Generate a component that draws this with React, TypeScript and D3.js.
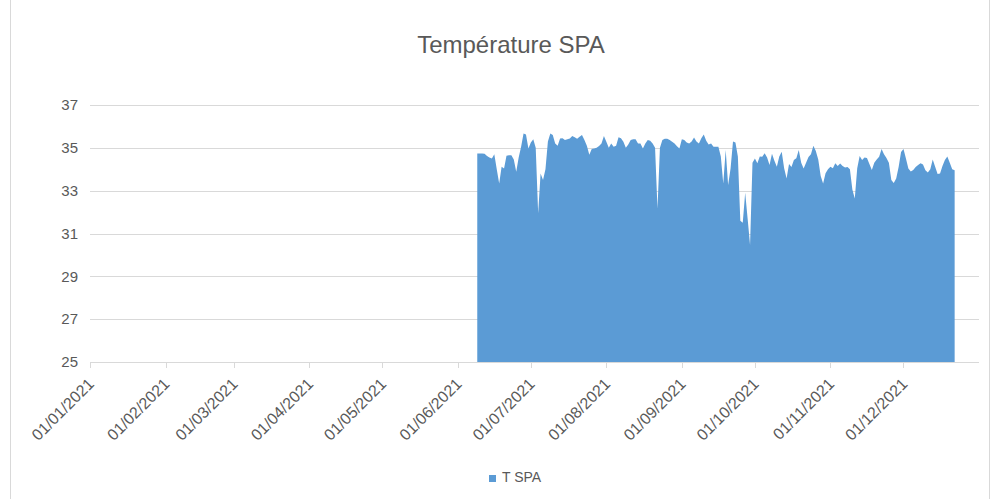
import React from "react";
import * as d3 from "d3";

const title = "Température SPA";
const seriesName = "T SPA";
const startDate = "2021-06-09";
const values: number[] = [
  34.74, 34.74, 34.74, 34.72, 34.62, 34.55, 34.5, 34.7, 34.0, 33.34,
  34.12, 34.04, 34.63, 34.65, 34.65, 34.45, 33.88, 34.55, 35.05, 35.67,
  35.62, 34.97, 35.25, 35.4, 35.0, 31.94, 33.8, 33.5, 34.0, 35.3,
  35.67, 35.6, 35.2, 35.1, 35.44, 35.45, 35.36, 35.4, 35.44, 35.55,
  35.5, 35.42, 35.52, 35.6, 35.36, 35.1, 34.68, 34.95, 34.97, 35.0,
  35.08, 35.2, 35.55, 35.28, 35.0, 35.2, 35.05, 35.1, 35.5, 35.45,
  35.28, 35.0, 35.15, 35.36, 35.4, 35.4, 35.2, 35.2, 34.97, 35.2,
  35.36, 35.33, 35.2, 35.0, 32.17, 35.0, 35.36, 35.42, 35.42, 35.36,
  35.28, 35.2, 35.07, 34.97, 35.4, 35.36, 35.25, 35.2, 35.3, 35.48,
  35.3, 35.2, 35.45, 35.62, 35.33, 35.15, 35.2, 35.05, 35.05, 35.05,
  34.6, 33.34, 34.9, 33.26, 34.04, 35.3, 35.25, 34.6, 31.6, 31.5,
  32.9, 31.7, 30.46, 34.3, 34.5, 34.28, 34.6, 34.58, 34.75, 34.55,
  34.2, 34.72, 34.4, 34.12, 34.6, 34.82, 34.05, 33.57, 34.25, 34.1,
  34.43, 34.51, 34.9, 34.3, 34.04, 34.3, 34.57, 34.7, 35.1, 34.85,
  34.45, 33.68, 33.34, 33.81, 34.0, 34.12, 34.05, 34.28, 34.15, 34.27,
  34.15, 34.08, 34.1, 34.0, 33.05, 32.64, 34.05, 34.62, 34.43, 34.55,
  34.52, 34.25, 33.96, 34.3, 34.45, 34.58, 34.95, 34.7, 34.52, 34.3,
  33.5, 33.36, 33.57, 34.1, 34.8, 34.95, 34.5, 34.04, 33.9, 33.96,
  34.1, 34.2, 34.28, 34.22, 33.95, 33.85, 34.0, 34.45, 34.12, 33.78,
  33.8, 34.15, 34.43, 34.6, 34.3, 34.0, 33.95,
];
const yTicks = [25, 27, 29, 31, 33, 35, 37];
const xTickDates = [
  "2021-01-01", "2021-02-01", "2021-03-01", "2021-04-01", "2021-05-01", "2021-06-01",
  "2021-07-01", "2021-08-01", "2021-09-01", "2021-10-01", "2021-11-01", "2021-12-01",
];

const W = 998;
const H = 499;
const left = 90;
const right = 979;
const top = 105;
const bottom = 362;
const fill = "#5B9BD5";
const grid = "#D9D9D9";
const textColor = "#595959";
const font = "'Liberation Sans', Arial, sans-serif";

const parse = d3.utcParse("%Y-%m-%d");
const fmt = d3.utcFormat("%d/%m/%Y");

export default function App() {
  const start = parse(startDate)!;
  const data = values.map((v, i) => ({ date: d3.utcDay.offset(start, i), v }));
  const x = d3
    .scaleUtc()
    .domain([parse("2021-01-01")!, parse("2022-01-01")!])
    .range([left, right]);
  const y = d3.scaleLinear().domain([25, 37]).range([bottom, top]);
  const area = d3
    .area<{ date: Date; v: number }>()
    .x((d) => x(d.date))
    .y0(y(25))
    .y1((d) => y(d.v));
  const ticks = xTickDates.map((s) => parse(s)!);

  return (
    <div style={{ position: "absolute", left: 0, top: 0 }}>
      <svg width={W} height={H} style={{ display: "block", background: "#fff" }}>
        <line x1={10.5} x2={10.5} y1={0} y2={H} stroke={grid} />
        <line x1={989.5} x2={989.5} y1={0} y2={H} stroke={grid} />
        <text
          x={511}
          y={53}
          textAnchor="middle"
          fontFamily={font}
          fontSize={24}
          fill={textColor}
        >
          {title}
        </text>
        {yTicks.map((t) => (
          <g key={t}>
            <line
              x1={left}
              x2={right}
              y1={Math.round(y(t)) + 0.5}
              y2={Math.round(y(t)) + 0.5}
              stroke={grid}
            />
            <text
              x={78}
              y={y(t)}
              dy="0.35em"
              textAnchor="end"
              fontFamily={font}
              fontSize={15}
              fill={textColor}
            >
              {t}
            </text>
          </g>
        ))}
        <path d={area(data) || ""} fill={fill} />
        <line x1={left} x2={right} y1={bottom + 0.5} y2={bottom + 0.5} stroke={grid} />
        {ticks.map((t) => (
          <g key={+t}>
            <line
              x1={Math.round(x(t)) + 0.5}
              x2={Math.round(x(t)) + 0.5}
              y1={bottom}
              y2={bottom + 6}
              stroke={grid}
            />
            <text
              transform={`translate(${x(t) + 1},${bottom + 19}) rotate(-45)`}
              dy="0.35em"
              textAnchor="end"
              fontFamily={font}
              fontSize={16}
              fill={textColor}
            >
              {fmt(t)}
            </text>
          </g>
        ))}
        <rect x={489} y={475} width={7} height={7} fill={fill} />
        <text x={502} y={482} fontFamily={font} fontSize={14} fill={textColor}>
          {seriesName}
        </text>
      </svg>
    </div>
  );
}
